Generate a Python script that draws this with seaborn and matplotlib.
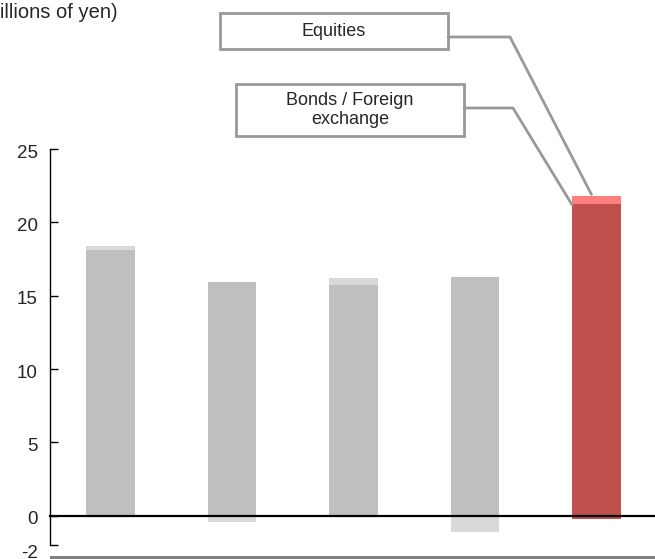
import matplotlib
matplotlib.use("Agg")
import matplotlib.pyplot as plt
import matplotlib.transforms as mtransforms
import seaborn as sns
import pandas as pd
import numpy as np
from matplotlib.patches import Rectangle
from matplotlib.lines import Line2D

# ---- data ----
categories = ["P1", "P2", "P3", "P4", "P5"]
bonds_fx = [18.1, 15.9, 15.7, 16.3, 21.25]
equities = [0.3, -0.4, 0.5, -1.1, 0.55]
fx_negative = [0.0, 0.0, 0.0, 0.0, -0.25]
y_ticks = [-2, 0, 5, 10, 15, 20, 25]
title_text = "(billions of yen)"
label_equities = "Equities"
label_bonds = "Bonds / Foreign\nexchange"

dark_colors = ["#BFBFBF", "#BFBFBF", "#BFBFBF", "#BFBFBF", "#C0504D"]
light_colors = ["#D9D9D9", "#D9D9D9", "#D9D9D9", "#D9D9D9", "#FF7F7F"]

sns.set_style("white")
plt.rcParams["font.family"] = ["Liberation Sans", "DejaVu Sans"]

W, H = 655, 559
fig = plt.figure(figsize=(W / 100, H / 100), dpi=100)
ax = fig.add_axes([50 / W, (H - 545) / H, 607 / W, 396 / H])

df = pd.DataFrame({
    "cat": categories,
    "bonds": bonds_fx,
    "eq": equities,
    "fxneg": fx_negative,
})
df["pos_total"] = df["bonds"] + df["eq"].clip(lower=0)
df["neg_eq"] = df["eq"].clip(upper=0)

dark_pal = dict(zip(categories, dark_colors))
light_pal = dict(zip(categories, light_colors))
bw = 0.4

sns.barplot(data=df, x="cat", y="pos_total", hue="cat", palette=light_pal,
            width=bw, legend=False, ax=ax, linewidth=0, saturation=1)
sns.barplot(data=df, x="cat", y="bonds", hue="cat", palette=dark_pal,
            width=bw, legend=False, ax=ax, linewidth=0, saturation=1)
sns.barplot(data=df, x="cat", y="neg_eq", hue="cat", palette=light_pal,
            width=bw, legend=False, ax=ax, linewidth=0, saturation=1)
sns.barplot(data=df, x="cat", y="fxneg", hue="cat", palette=dark_pal,
            width=bw, legend=False, ax=ax, linewidth=0, saturation=1)

ax.set_xlim(-0.5, len(categories) - 0.5)
ax.set_ylim(-2, 25)
ax.set_yticks(y_ticks)
ax.set_yticklabels([str(t) for t in y_ticks])
ax.set_xlabel("")
ax.set_ylabel("")
ax.set_xticklabels([])
ax.tick_params(axis="x", which="major", length=0)
ax.set_xticks(np.arange(len(categories) - 1) + 0.5, minor=True)
ax.tick_params(axis="x", which="minor", direction="in", length=4, width=1.3, color="black")
ax.tick_params(axis="y", direction="in", length=6, width=1, color="black",
               labelsize=13.5, pad=9, left=True)

# y tick labels sit slightly below their ticks in the reference
for t, lab in zip(y_ticks, ax.get_yticklabels()):
    dy = -7 if t == -2 else -2
    lab.set_transform(lab.get_transform() +
                      mtransforms.ScaledTranslation(0, dy / 100, fig.dpi_scale_trans))

for s in ["top", "right"]:
    ax.spines[s].set_visible(False)
ax.spines["bottom"].set_position(("data", 0))
ax.spines["bottom"].set_linewidth(1.6)
ax.spines["bottom"].set_color("black")
ax.spines["bottom"].set_zorder(5)
ax.spines["left"].set_linewidth(1)
ax.spines["left"].set_color("black")

# title (partially cut off on the left, as in the reference)
fig.text(118 / W, 1 - 12 / H, title_text, ha="right", va="center", fontsize=14.5)

def px(x, y):
    return (x / W, 1 - y / H)

def data_to_fig(x, y):
    d = ax.transData.transform((x, y))
    return fig.transFigure.inverted().transform(d)

box_col = "#999999"
# annotation boxes
for (x0, y0, x1, y1, txt) in [(220, 13, 448, 49, label_equities),
                              (236, 84, 464, 136, label_bonds)]:
    r = Rectangle(px(x0, y1), (x1 - x0) / W, (y1 - y0) / H, transform=fig.transFigure,
                  facecolor="white", edgecolor=box_col, linewidth=2)
    fig.add_artist(r)
    fig.text((x0 + x1) / 2 / W, 1 - (y0 + y1) / 2 / H, txt, ha="center", va="center",
             fontsize=13, linespacing=1.1)

last = len(categories) - 1
eq_end = data_to_fig(last - 0.04, df["pos_total"].iloc[last] + 0.1)
bd_end = data_to_fig(last - bw / 2, df["bonds"].iloc[last] - 0.05)
for start, mid, end in [(px(448, 37), px(510, 37), eq_end),
                        (px(464, 108), px(513, 108), bd_end)]:
    fig.add_artist(Line2D([start[0], mid[0], end[0]], [start[1], mid[1], end[1]],
                          transform=fig.transFigure, color=box_col, linewidth=2))

# category label boxes at the bottom (cut off)
bcol = "#808080"
for (x0, x1) in [(51, 537), (539, 700)]:
    r = Rectangle(px(x0, 581), (x1 - x0) / W, 24 / H, transform=fig.transFigure,
                  facecolor="white", edgecolor=bcol, linewidth=2.2)
    fig.add_artist(r)

fig.savefig("out.png", dpi=100)
